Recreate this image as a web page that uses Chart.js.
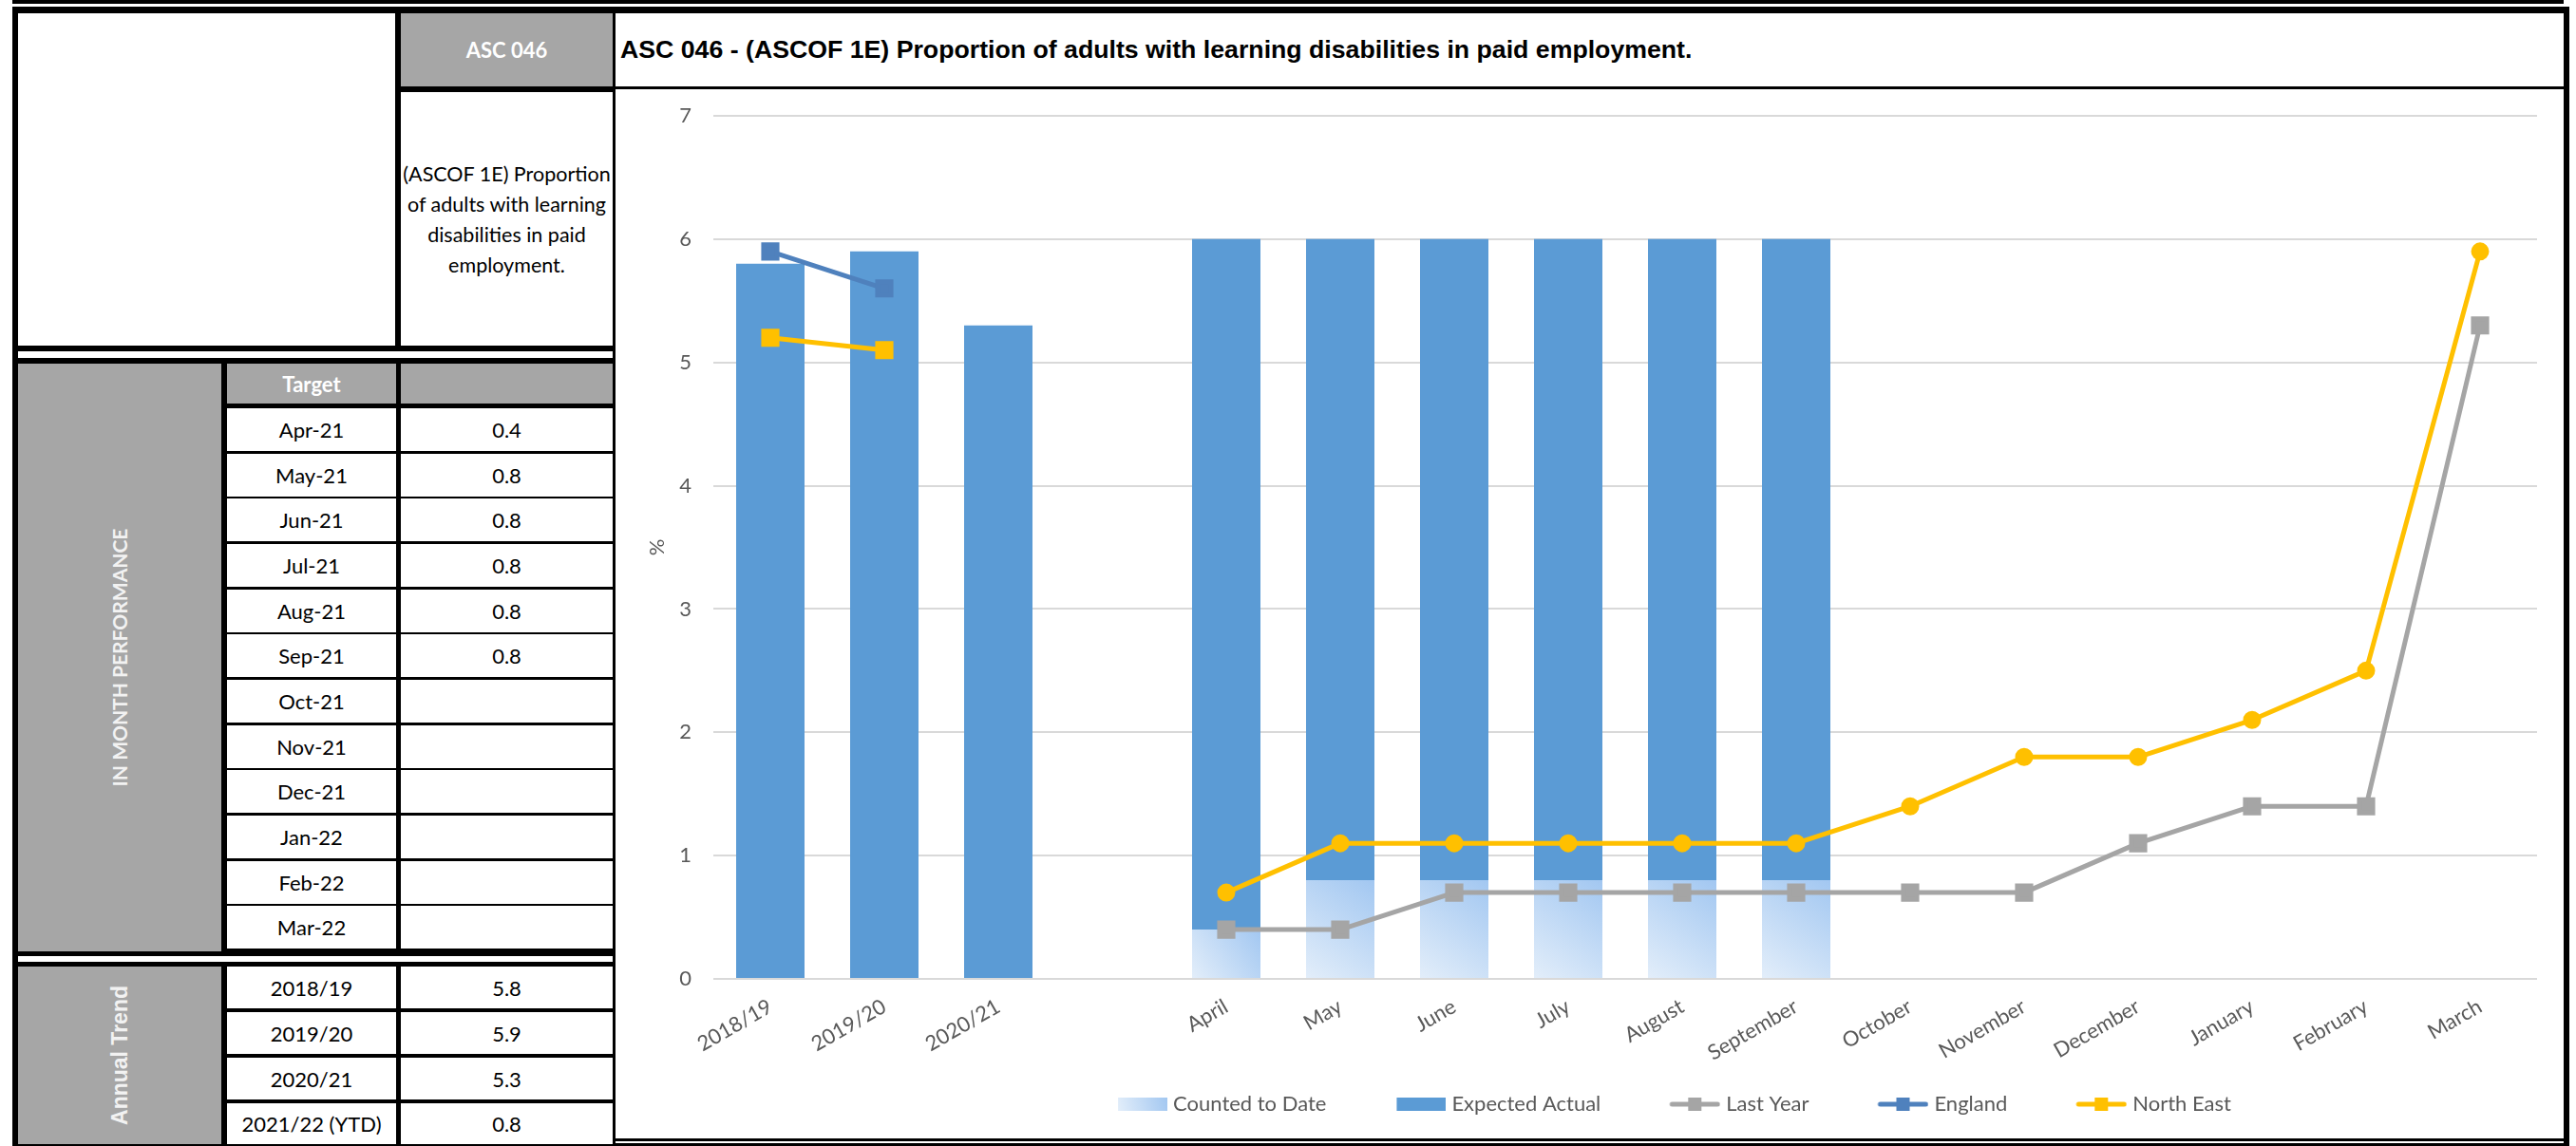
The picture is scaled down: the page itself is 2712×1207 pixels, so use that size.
<!DOCTYPE html>
<html>
<head>
<meta charset="utf-8">
<script src="https://cdn.jsdelivr.net/npm/chart.js@4.4.0/dist/chart.umd.min.js"></script>
<style>
  html, body { margin: 0; padding: 0; background: #fff; overflow: hidden; }
  body { width: 2712px; height: 1207px; position: relative; font-family: Lato, 'Open Sans', sans-serif; }
  .blk { position: absolute; background: #000; }
  .cell { position: absolute; background: #fff; display: flex; align-items: center; justify-content: center;
          font-size: 22px; color: #000; white-space: nowrap; }
  .grey { background: #A6A6A6; color: #fff; font-weight: bold; }
  .rot { transform: rotate(-90deg); white-space: nowrap; }
  #title { position: absolute; left: 653px; top: 14px; height: 77px; display: flex; align-items: center;
           font-family: 'Liberation Sans', Arial, sans-serif; font-weight: bold; font-size: 26.7px; color: #000; }
  #chartBox { position: absolute; left: 648px; top: 94px; width: 2051px; height: 1105px; background: #fff; }
</style>
</head>
<body>
<div id="panel"></div>
<div id="title">ASC 046 - (ASCOF 1E) Proportion of adults with learning disabilities in paid employment.</div>
<div id="chartBox"><canvas id="chart"></canvas></div>

<script>
// chart data
const categories = ['2018/19', '2019/20', '2020/21', '', 'April', 'May', 'June', 'July', 'August',
  'September', 'October', 'November', 'December', 'January', 'February', 'March'];
const countedToDate = [null, null, null, null, 0.4, 0.8, 0.8, 0.8, 0.8, 0.8, null, null, null, null, null, null];
const expectedActual = [5.8, 5.9, 5.3, null, 6, 6, 6, 6, 6, 6, null, null, null, null, null, null];
const lastYear = [null, null, null, null, 0.4, 0.4, 0.7, 0.7, 0.7, 0.7, 0.7, 0.7, 1.1, 1.4, 1.4, 5.3];
const england = [5.9, 5.6, null, null, null, null, null, null, null, null, null, null, null, null, null, null];
const northEast = [5.2, 5.1, null, null, 0.7, 1.1, 1.1, 1.1, 1.1, 1.1, 1.4, 1.8, 1.8, 2.1, 2.5, 5.9];
const yMax = 7;

// side table data
const targetMonths = ['Apr-21', 'May-21', 'Jun-21', 'Jul-21', 'Aug-21', 'Sep-21',
  'Oct-21', 'Nov-21', 'Dec-21', 'Jan-22', 'Feb-22', 'Mar-22'];
const targetValues = ['0.4', '0.8', '0.8', '0.8', '0.8', '0.8', '', '', '', '', '', ''];
const annualYears = ['2018/19', '2019/20', '2020/21', '2021/22 (YTD)'];
const annualValues = ['5.8', '5.9', '5.3', '0.8'];

const panel = document.getElementById('panel');
function box(x0, y0, x1, y1, cls, html) {
  const d = document.createElement('div');
  d.className = cls;
  d.style.left = x0 + 'px'; d.style.top = y0 + 'px';
  d.style.width = (x1 - x0) + 'px'; d.style.height = (y1 - y0) + 'px';
  if (html) d.innerHTML = html;
  panel.appendChild(d);
  return d;
}

// frame lines
box(13, 7, 648, 1207, 'blk');
box(13, 0, 2699, 4, 'blk');
box(13, 7, 2705, 14, 'blk');
box(2699, 7, 2705, 1207, 'blk');
box(648, 91, 2699, 94, 'blk');
box(13, 1199, 2705, 1202, 'blk');
box(13, 1204, 2705, 1207, 'blk');

// header block
box(19, 14, 416, 364, 'cell');
box(422, 14, 645, 91, 'cell grey', 'ASC 046');
const desc = box(422, 97, 645, 364, 'cell',
  '(ASCOF 1E) Proportion<br>of adults with learning<br>disabilities in paid<br>employment.');
desc.style.textAlign = 'center'; desc.style.lineHeight = '32px'; desc.style.fontSize = '21.5px';
box(19, 370, 645, 377, 'cell');

// in month performance
box(19, 383, 233, 1002, 'cell grey', '<span class="rot" style="font-size:21px;color:#F2F2F2">IN MONTH PERFORMANCE</span>');
box(239, 383, 417, 425, 'cell grey', 'Target');
box(422, 383, 645, 425, 'cell grey');
targetMonths.forEach((m, i) => {
  const y0 = Math.round(430 + i * 47.67);
  box(239, y0, 417, y0 + 45, 'cell', m);
  box(422, y0, 645, y0 + 45, 'cell', targetValues[i]);
});
box(19, 1007, 645, 1013, 'cell');

// annual trend
box(19, 1018, 233, 1205, 'cell grey',
  '<span class="rot" style="font-family:\'Liberation Sans\',Arial,sans-serif;font-size:23px;color:#F2F2F2">Annual Trend</span>');
annualYears.forEach((yr, i) => {
  const y0 = Math.round(1018 + i * 48);
  box(239, y0, 417, Math.min(y0 + 44, 1205), 'cell', yr);
  box(422, y0, 645, Math.min(y0 + 44, 1205), 'cell', annualValues[i]);
});

// ---- chart ----
const TXT = '#595959';
const FONT = { family: 'Lato', size: 22 };
const ICON_W = 111;

function countedFill(c) {
  const chart = c.chart;
  const xs = chart.scales.x, ys = chart.scales.y;
  if (c.type !== 'data' || !xs || !ys || c.raw == null) return '#C5DCF5';
  const cx = xs.getPixelForValue(c.dataIndex);
  const half = xs.width / categories.length * 0.3;
  const g = chart.ctx.createLinearGradient(cx - half, ys.getPixelForValue(0), cx + half, ys.getPixelForValue(c.raw));
  g.addColorStop(0, '#E3EEFA');
  g.addColorStop(1, '#A2C7F1');
  return g;
}

// legend icons: transparent lead-in on the left, visible swatch flush right
function legendIcon(kind, color) {
  const c = document.createElement('canvas');
  const W = ICON_W + 10;
  c.width = W; c.height = 22;
  const g = c.getContext('2d');
  if (kind === 'gradient') {
    const gr = g.createLinearGradient(W - 52, 18, W, 4);
    gr.addColorStop(0, '#E3EEFA'); gr.addColorStop(1, '#A2C7F1');
    g.fillStyle = gr; g.fillRect(W - 52, 4, 52, 14);
  } else if (kind === 'box') {
    g.fillStyle = color; g.fillRect(W - 52, 4, 52, 14);
  } else {
    g.strokeStyle = color; g.lineWidth = 5; g.lineCap = 'round';
    g.beginPath(); g.moveTo(W - 51, 11); g.lineTo(W - 3, 11); g.stroke();
    g.fillStyle = color; g.fillRect(W - 34, 4, 14, 14);
  }
  return c;
}
const legendIcons = [
  legendIcon('gradient'), legendIcon('box', '#5B9BD5'), legendIcon('line', '#A5A5A5'),
  legendIcon('line', '#4F81BD'), legendIcon('line', '#FFC000')
];

const LEGEND_SHIFT = 58;
const legendShift = {
  id: 'legendShift',
  afterLayout(chart) {
    chart.legend.left += LEGEND_SHIFT;
    chart.legend.right += LEGEND_SHIFT;
  }
};

new Chart(document.getElementById('chart'), {
  type: 'bar',
  data: {
    labels: categories,
    datasets: [
      { label: 'Counted to Date', data: countedToDate, backgroundColor: countedFill, grouped: false, order: 1 },
      { label: 'Expected Actual', data: expectedActual, backgroundColor: '#5B9BD5', grouped: false, order: 2 },
      { type: 'line', label: 'Last Year', data: lastYear, borderColor: '#A5A5A5', backgroundColor: '#A5A5A5',
        borderWidth: 5, pointStyle: 'rect', pointRadius: 10, pointHoverRadius: 10, order: 0 },
      { type: 'line', label: 'England', data: england, borderColor: '#4F81BD', backgroundColor: '#4F81BD',
        borderWidth: 5, pointStyle: 'rect', pointRadius: 10, pointHoverRadius: 10, order: 0 },
      { type: 'line', label: 'North East', data: northEast, borderColor: '#FFC000', backgroundColor: '#FFC000',
        borderWidth: 5, order: 0,
        pointStyle: c => c.dataIndex < 3 ? 'rect' : 'circle',
        pointRadius: c => c.dataIndex < 3 ? 10 : 7 }
    ]
  },
  options: {
    responsive: true,
    maintainAspectRatio: false,
    animation: false,
    devicePixelRatio: 1,
    barPercentage: 0.6,
    categoryPercentage: 1,
    layout: { padding: { left: 27, right: 28, top: 28, bottom: 15 } },
    elements: { line: { tension: 0, borderJoinStyle: 'round', borderCapStyle: 'round' }, point: { borderWidth: 0 } },
    plugins: {
      legend: {
        position: 'bottom',
        labels: {
          usePointStyle: true,
          pointStyleWidth: ICON_W,
          padding: 10,
          color: TXT,
          font: FONT,
          generateLabels: chart => chart.data.datasets.map((ds, i) => ({
            text: ds.label, datasetIndex: i, hidden: false, pointStyle: legendIcons[i],
            fillStyle: 'rgba(0,0,0,0)', strokeStyle: 'rgba(0,0,0,0)', lineWidth: 0, fontColor: TXT
          }))
        }
      },
      tooltip: { enabled: false }
    },
    scales: {
      x: {
        grid: { display: false },
        border: { display: false },
        ticks: { color: TXT, font: FONT, minRotation: 30, maxRotation: 30, autoSkip: false, padding: 8 },
        afterFit: s => { s.height = 111; }
      },
      y: {
        min: 0,
        max: yMax,
        ticks: { stepSize: 1, color: TXT, font: FONT, padding: 23 },
        grid: { color: '#D9D9D9', lineWidth: 2, drawTicks: false },
        border: { display: false },
        title: { display: true, text: '%', color: TXT, font: FONT },
        afterFit: s => { s.width = 76; s.paddingTop = 14; s.paddingBottom = 14; }
      }
    }
  },
  plugins: [legendShift]
});
</script>
</body>
</html>
